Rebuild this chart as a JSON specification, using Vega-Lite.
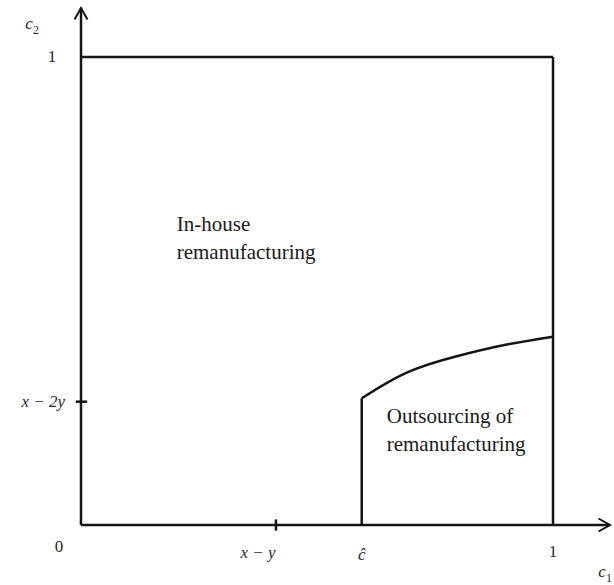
{
  "$schema": "https://vega.github.io/schema/vega-lite/v6.json",
  "width": 614,
  "height": 585,
  "autosize": "none",
  "padding": 0,
  "background": "white",
  "config": {"view": {"stroke": null}},
  "datasets": {
    "segs": [
      {"x": 0, "y": 0, "x2": 1.1208, "y2": 0},
      {"x": 0, "y": 0, "x2": 0, "y2": 1.1047},
      {"x": 0, "y": 1, "x2": 1, "y2": 1},
      {"x": 1, "y": 0, "x2": 1, "y2": 1},
      {"x": 0.5947, "y": 0, "x2": 0.5947, "y2": 0.2707},
      {"x": 0.413, "y": -0.012, "x2": 0.413, "y2": 0.012},
      {"x": -0.011, "y": 0.2635, "x2": 0.013, "y2": 0.2635}
    ],
    "curve": [
      {"x": 0.5947, "y": 0.2707},
      {"x": 0.690, "y": 0.3256},
      {"x": 0.796, "y": 0.3606},
      {"x": 0.902, "y": 0.3856},
      {"x": 1.0, "y": 0.4024}
    ],
    "uparrow": [{"x": 0, "y": 1.1047}],
    "rightarrow": [{"x": 1.1208, "y": 0}],
    "italiclabels": [
      {"x": -0.1102, "y": 1.0705, "t": "c"},
      {"x": 0.375, "y": -0.0598, "t": "x − y"},
      {"x": 0.5947, "y": -0.064, "t": "ĉ"},
      {"x": 1.1038, "y": -0.1005, "t": "c"}
    ],
    "digitlabels": [
      {"x": -0.0614, "y": 1.0, "t": "1"},
      {"x": -0.0466, "y": -0.047, "t": "0"},
      {"x": 1.0, "y": -0.0577, "t": "1"}
    ],
    "subscripts": [
      {"x": -0.0953, "y": 1.0577, "t": "2"},
      {"x": 1.1186, "y": -0.1132, "t": "1"}
    ],
    "rightlabels": [
      {"x": -0.0339, "y": 0.2635, "t": "x − 2y"}
    ],
    "regions": [
      {"x": 0.2028, "y": 0.641, "t": "In-house"},
      {"x": 0.2028, "y": 0.5806, "t": "remanufacturing"},
      {"x": 0.6477, "y": 0.2314, "t": "Outsourcing of"},
      {"x": 0.6477, "y": 0.1709, "t": "remanufacturing"}
    ]
  },
  "layer": [
    {
      "data": {"name": "segs"},
      "mark": {"type": "rule", "color": "#151515", "strokeWidth": 2.5},
      "encoding": {
        "x": {"field": "x", "type": "quantitative", "scale": {"domain": [-0.1716, 1.1292], "nice": false, "zero": false}, "axis": null},
        "y": {"field": "y", "type": "quantitative", "scale": {"domain": [-0.1282, 1.1218], "nice": false, "zero": false}, "axis": null},
        "x2": {"field": "x2"},
        "y2": {"field": "y2"}
      }
    },
    {
      "data": {"name": "curve"},
      "mark": {"type": "line", "color": "#151515", "strokeWidth": 2.5, "interpolate": "natural"},
      "encoding": {
        "x": {"field": "x", "type": "quantitative"},
        "y": {"field": "y", "type": "quantitative"}
      }
    },
    {
      "data": {"name": "uparrow"},
      "mark": {"type": "point", "shape": "M-1.3,2.3 L0,0 L1.3,2.3", "size": 100, "filled": false, "stroke": "#151515", "strokeWidth": 2, "opacity": 1},
      "encoding": {
        "x": {"field": "x", "type": "quantitative"},
        "y": {"field": "y", "type": "quantitative"}
      }
    },
    {
      "data": {"name": "rightarrow"},
      "mark": {"type": "point", "shape": "M-2.3,-1.3 L0,0 L-2.3,1.3", "size": 100, "filled": false, "stroke": "#151515", "strokeWidth": 2, "opacity": 1},
      "encoding": {
        "x": {"field": "x", "type": "quantitative"},
        "y": {"field": "y", "type": "quantitative"}
      }
    },
    {
      "data": {"name": "italiclabels"},
      "mark": {"type": "text", "font": "Liberation Serif", "fontStyle": "italic", "fontSize": 17, "color": "#2a2a2a", "align": "center", "baseline": "middle"},
      "encoding": {
        "x": {"field": "x", "type": "quantitative"},
        "y": {"field": "y", "type": "quantitative"},
        "text": {"field": "t"}
      }
    },
    {
      "data": {"name": "digitlabels"},
      "mark": {"type": "text", "font": "Liberation Serif", "fontSize": 17, "color": "#2a2a2a", "align": "center", "baseline": "middle"},
      "encoding": {
        "x": {"field": "x", "type": "quantitative"},
        "y": {"field": "y", "type": "quantitative"},
        "text": {"field": "t"}
      }
    },
    {
      "data": {"name": "subscripts"},
      "mark": {"type": "text", "font": "Liberation Serif", "fontSize": 12, "color": "#2a2a2a", "align": "center", "baseline": "middle"},
      "encoding": {
        "x": {"field": "x", "type": "quantitative"},
        "y": {"field": "y", "type": "quantitative"},
        "text": {"field": "t"}
      }
    },
    {
      "data": {"name": "rightlabels"},
      "mark": {"type": "text", "font": "Liberation Serif", "fontStyle": "italic", "fontSize": 17, "color": "#2a2a2a", "align": "right", "baseline": "middle"},
      "encoding": {
        "x": {"field": "x", "type": "quantitative"},
        "y": {"field": "y", "type": "quantitative"},
        "text": {"field": "t"}
      }
    },
    {
      "data": {"name": "regions"},
      "mark": {"type": "text", "font": "Liberation Serif", "fontSize": 21, "color": "#1a1a1a", "align": "left", "baseline": "middle"},
      "encoding": {
        "x": {"field": "x", "type": "quantitative"},
        "y": {"field": "y", "type": "quantitative"},
        "text": {"field": "t"}
      }
    }
  ]
}
